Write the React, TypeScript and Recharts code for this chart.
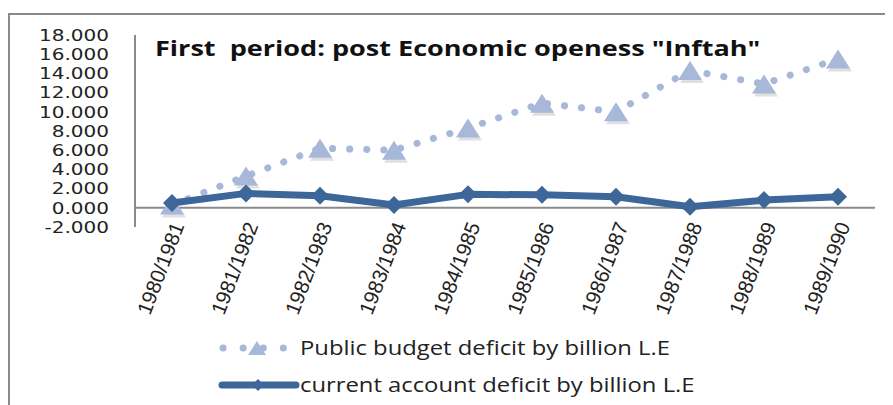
import { LineChart, Line, XAxis, YAxis, ReferenceLine, Legend } from 'recharts';

// First period (post "Inftah") — budget vs current account deficit, billion L.E
const YEARS = ['1980/1981', '1981/1982', '1982/1983', '1983/1984', '1984/1985', '1985/1986', '1986/1987', '1987/1988', '1988/1989', '1989/1990'];
const BUDGET = [0.3, 3.3, 6.2, 6.0, 8.3, 10.9, 10.0, 14.3, 12.9, 15.5];
const CURRENT = [0.5, 1.5, 1.25, 0.3, 1.4, 1.35, 1.15, 0.1, 0.8, 1.15];
const Y_TICKS = [-2, 0, 2, 4, 6, 8, 10, 12, 14, 16, 18];

const BUDGET_NAME = 'Public budget deficit by billion L.E';
const CURRENT_NAME = 'current account deficit by billion L.E';
const TITLE = 'First  period: post Economic openess "Inftah"';

const LIGHT = '#a7b8d8';
const DARK = '#3d6699';
const GREY = '#8a8a8a';

const data = YEARS.map((year, i) => ({ year, budget: BUDGET[i], current: CURRENT[i] }));

function Triangle(props: any) {
  const { cx, cy } = props;
  if (cx == null || cy == null) return null;
  const w = 12, h = 19;
  const pts = `${cx - w},${cy + h / 2} ${cx + w},${cy + h / 2} ${cx},${cy - h / 2}`;
  return (
    <g>
      <polygon points={pts} fill="#000" opacity={0.12} transform="translate(2,3)" />
      <polygon points={pts} fill={LIGHT} />
    </g>
  );
}

function Diamond(props: any) {
  const { cx, cy } = props;
  if (cx == null || cy == null) return null;
  const r = 9;
  return <polygon points={`${cx - r},${cy} ${cx},${cy - r} ${cx + r},${cy} ${cx},${cy + r}`} fill={DARK} />;
}

function YTick(props: any) {
  const { x, y, payload } = props;
  return (
    <text transform={`translate(${x - 18},${y}) scale(1.25,1)`} textAnchor="end" dy="0.36em" fontSize={16} fontFamily="DejaVu Sans" fill="#222">
      {payload.value.toFixed(3)}
    </text>
  );
}

function XTick(props: any) {
  const { x, y, payload } = props;
  return (
    <text transform={`translate(${x + 6},${y - 12}) rotate(-69)`} textAnchor="end" dy="0.35em" fontSize={20.5} fontFamily="Liberation Sans" fill="#222">
      {payload.value}
    </text>
  );
}

function LegendBox() {
  const font: React.CSSProperties = { fontFamily: 'Open Sans', fontSize: 20, color: '#222', lineHeight: '24px', display: 'inline-block', whiteSpace: 'nowrap', transform: 'scaleX(1.19)', transformOrigin: 'left center' };
  return (
    <div style={{ display: 'flex', flexDirection: 'column', gap: 13 }}>
      <div style={{ display: 'flex', alignItems: 'center' }}>
        <svg width={82} height={24}>
          <line x1={5} y1={12} x2={72} y2={12} stroke={LIGHT} strokeWidth={7} strokeDasharray="0.1 20" strokeLinecap="round" />
          <polygon points="30,19 48,19 39,5" fill={LIGHT} />
        </svg>
        <span style={font}>{BUDGET_NAME}</span>
      </div>
      <div style={{ display: 'flex', alignItems: 'center' }}>
        <svg width={82} height={24}>
          <line x1={4} y1={12} x2={78} y2={12} stroke={DARK} strokeWidth={7} strokeLinecap="round" />
          <polygon points="34,12 40,6 46,12 40,18" fill={DARK} />
        </svg>
        <span style={font}>{CURRENT_NAME}</span>
      </div>
    </div>
  );
}

export default function App() {
  return (
    <div style={{ position: 'relative', width: 885, height: 397 }}>
      <div style={{ position: 'absolute', left: 0, top: 5, width: 885, height: 392, borderTop: `2px solid ${GREY}`, borderLeft: `2px solid ${GREY}`, boxSizing: 'border-box' }} />
      <LineChart width={885} height={397} data={data} margin={{ top: 27, right: 18, left: 0, bottom: 0 }}>
        <XAxis dataKey="year" height={178} padding={{ left: 37, right: 37 }} axisLine={false} tickLine={false} tick={<XTick />} interval={0} />
        <YAxis width={127} domain={[-2, 18]} ticks={Y_TICKS} allowDataOverflow axisLine={{ stroke: GREY, strokeWidth: 2 }} tickLine={false} tick={<YTick />} interval={0} />
        <ReferenceLine y={0} stroke={GREY} strokeWidth={2} />
        <text transform="translate(147,40) scale(1.23,1)" dy="0.35em" xmlSpace="preserve" style={{ whiteSpace: 'pre' }} fontFamily="Open Sans" fontWeight={700} fontSize={22} fill="#111">{TITLE}</text>
        <Line dataKey="budget" name={BUDGET_NAME} stroke={LIGHT} strokeWidth={7} strokeDasharray="0.1 17" strokeLinecap="round" dot={<Triangle />} activeDot={false} isAnimationActive={false} />
        <Line dataKey="current" name={CURRENT_NAME} stroke={DARK} strokeWidth={7} strokeLinejoin="round" dot={<Diamond />} activeDot={false} isAnimationActive={false} />
        <Legend layout="horizontal" verticalAlign="middle" align="center" content={<LegendBox />} wrapperStyle={{ top: 328, left: 210, width: 600 }} />
      </LineChart>
    </div>
  );
}
